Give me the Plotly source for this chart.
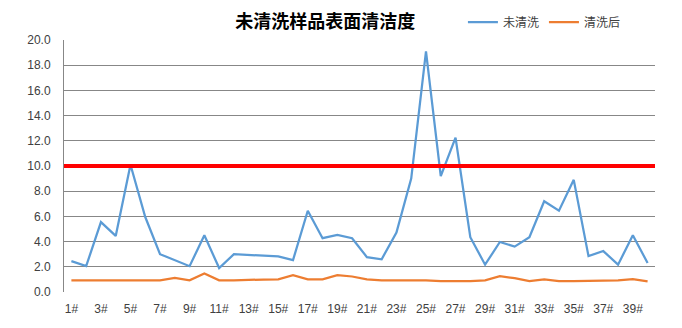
import plotly.graph_objects as go

categories = [f"{i}#" for i in range(1, 41)]
uncleaned = [2.45, 2.05, 5.55, 4.45, 10.1, 5.95, 3.0, 2.53, 2.05, 4.5,
             1.9, 3.0, 2.93, 2.85, 2.83, 2.53, 6.45, 4.27, 4.53, 4.27,
             2.77, 2.6, 4.72, 9.0, 19.1, 9.2, 12.25, 4.35, 2.17, 3.97,
             3.6, 4.35, 7.2, 6.45, 8.9, 2.85, 3.25, 2.17, 4.5, 2.3]
cleaned = [0.93, 0.93, 0.93, 0.93, 0.93, 0.93, 0.93, 1.12, 0.93, 1.47,
           0.93, 0.93, 0.93, 0.99, 1.01, 1.33, 1.01, 1.01, 1.33, 1.23,
           1.01, 0.93, 0.93, 0.93, 0.93, 0.87, 0.86, 0.86, 0.93, 1.25,
           1.1, 0.86, 1.0, 0.86, 0.86, 0.9, 0.93, 0.93, 1.03, 0.84]
threshold = 10.0
y_ticks = [0, 2, 4, 6, 8, 10, 12, 14, 16, 18, 20]
x_tick_labels = categories[::2]

fig = go.Figure()
fig.add_trace(go.Scatter(x=categories, y=uncleaned, mode="lines", name="未清洗",
                         line=dict(color="#5B9BD5", width=2.25)))
fig.add_trace(go.Scatter(x=categories, y=cleaned, mode="lines", name="清洗后",
                         line=dict(color="#ED7D31", width=2.25)))
fig.add_shape(type="line", xref="paper", x0=0, x1=1, yref="y", y0=threshold, y1=threshold,
              line=dict(color="#FF0000", width=4), layer="above")

fig.update_layout(
    width=682, height=328,
    margin=dict(l=64, r=27, t=40, b=36, autoexpand=False),
    paper_bgcolor="white", plot_bgcolor="white",
    font=dict(family="Liberation Sans, Noto Sans CJK SC", size=12, color="#404040"),
    title=dict(text="<b>未清洗样品表面清洁度</b>", x=0.477, xanchor="center",
               y=0.933, yanchor="middle",
               font=dict(family="Noto Sans CJK SC", size=18, color="#000000")),
    legend=dict(orientation="h", x=0.675, xanchor="left", y=1.071, yanchor="middle",
                font=dict(family="Noto Sans CJK SC", size=12, color="#404040"),
                bgcolor="rgba(0,0,0,0)", itemwidth=30, tracegroupgap=0),
    showlegend=True,
)
fig.update_xaxes(type="category", categoryorder="array", categoryarray=categories,
                 range=[-0.5, len(categories) - 0.5],
                 tickmode="array", tickvals=x_tick_labels, ticktext=x_tick_labels,
                 showgrid=False, showline=False, zeroline=False,
                 ticks="outside", ticklen=6, tickcolor="rgba(0,0,0,0)",
                 tickangle=0, tickfont=dict(size=12, color="#404040"))
fig.update_yaxes(range=[0, 20], tickmode="array", tickvals=y_ticks, tickformat=".1f",
                 showgrid=True, gridcolor="#878787", gridwidth=1,
                 showline=True, linecolor="#878787", linewidth=1,
                 zeroline=False, ticks="", ticklabelstandoff=10,
                 tickfont=dict(size=12, color="#404040"))

fig.write_html("out.html")
